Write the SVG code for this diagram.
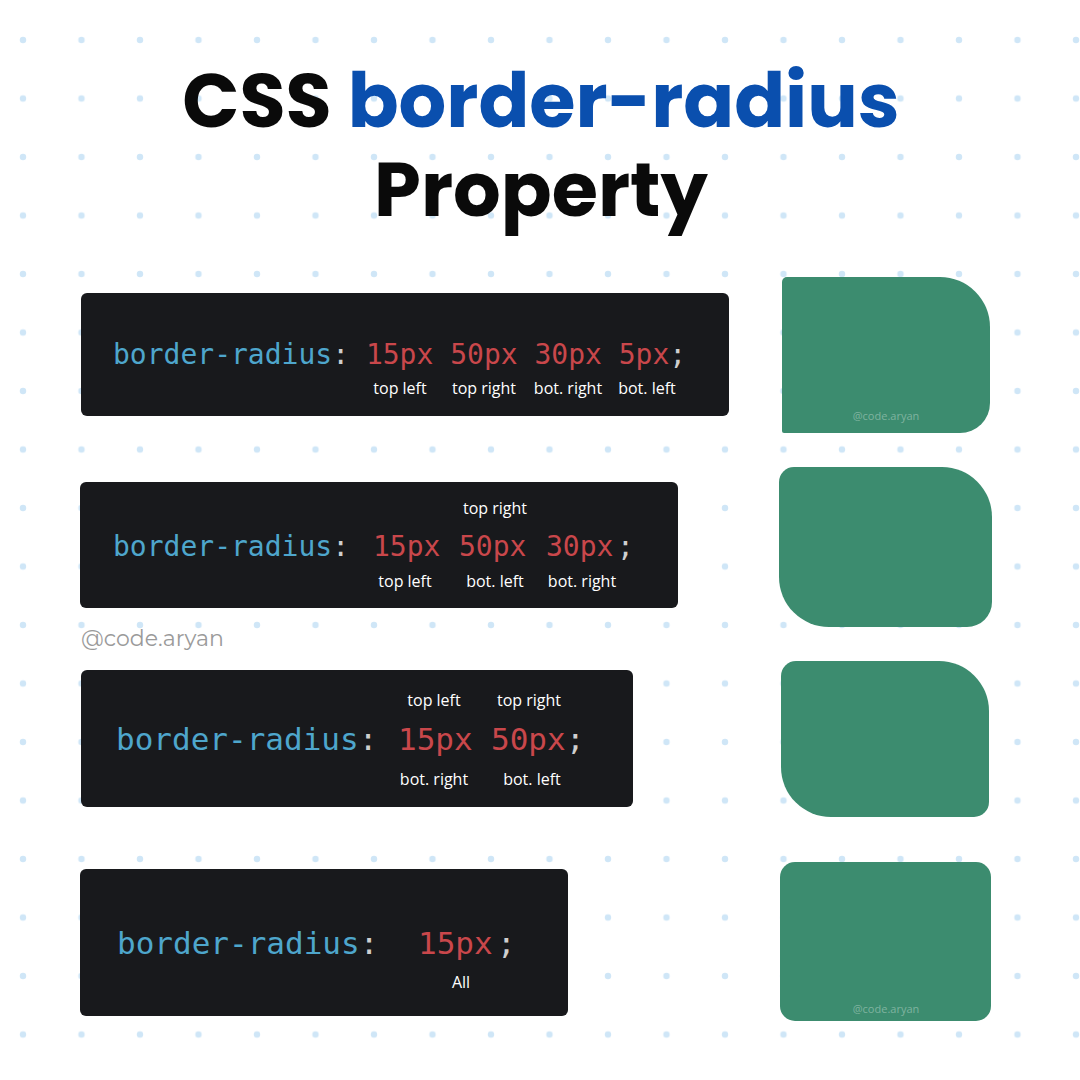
<svg xmlns="http://www.w3.org/2000/svg" width="1080" height="1080" viewBox="0 0 1080 1080">
<defs>
<pattern id="dots" x="-35.5" y="-18.5" width="58.5" height="58.5" patternUnits="userSpaceOnUse"><circle cx="58.5" cy="58.5" r="3.2" fill="#cfe6f7"/><circle cx="0" cy="0" r="3.2" fill="#cfe6f7"/><circle cx="58.5" cy="0" r="3.2" fill="#cfe6f7"/><circle cx="0" cy="58.5" r="3.2" fill="#cfe6f7"/></pattern>
</defs>
<style>
.box{fill:#18191c}
.code{font-family:"DejaVu Sans Mono",monospace;font-size:28px}
.c31{font-size:31px}
.k{fill:#4ea6cc}.v{fill:#c9474b}.p{fill:#cfcfcf}
.lab{font-family:"Open Sans","DejaVu Sans",sans-serif;font-size:16px;fill:#ffffff;text-anchor:middle}
.g{fill:#3c8c6f}
.wm{font-family:"Open Sans",sans-serif;font-size:11px;fill:#7fb39f;text-anchor:middle}
.t{font-family:"Poppins","Open Sans","Liberation Sans",sans-serif;font-weight:700;font-size:75px;text-anchor:middle}
</style>
<rect width="1080" height="1080" fill="#ffffff"/>
<rect width="1080" height="1080" fill="url(#dots)"/>
<g id="title">
<text class="t" x="541" y="127"><tspan fill="#0a0a0a">CSS </tspan><tspan fill="#0a4fae">border-radius</tspan></text>
<text class="t" x="541" y="216" fill="#0a0a0a">Property</text>
</g>
<g id="code1">
<rect class="box" x="81" y="293" width="648" height="123" rx="6"/>
<text class="code" x="113" y="364"><tspan class="k">border-radius</tspan><tspan class="p">: </tspan><tspan class="v">15px 50px 30px 5px</tspan><tspan class="p">;</tspan></text>
<text class="lab" x="400" y="394">top left</text>
<text class="lab" x="484" y="394">top right</text>
<text class="lab" x="568" y="394">bot. right</text>
<text class="lab" x="647" y="394">bot. left</text>
</g>
<g id="code2">
<rect class="box" x="80" y="482" width="598" height="126" rx="6"/>
<g class="code"><text x="113" y="556"><tspan class="k">border-radius</tspan><tspan class="p">:</tspan></text>
<text class="v" x="373" y="556">15px</text><text class="v" x="459" y="556">50px</text><text class="v" x="546" y="556">30px</text><text class="p" x="617" y="556">;</text></g>
<text class="lab" x="495" y="514">top right</text>
<text class="lab" x="405" y="587">top left</text>
<text class="lab" x="495" y="587">bot. left</text>
<text class="lab" x="582" y="587">bot. right</text>
</g>
<text x="81" y="646" font-family="Montserrat,'Open Sans',sans-serif" font-size="22" fill="#9a9a9a">@code.aryan</text>
<g id="code3">
<rect class="box" x="81" y="670" width="552" height="137" rx="6"/>
<g class="code c31"><text x="116" y="750"><tspan class="k">border-radius</tspan><tspan class="p">:</tspan></text>
<text class="v" x="398" y="750">15px</text><text class="v" x="491" y="750">50px</text><text class="p" x="566" y="750">;</text></g>
<text class="lab" x="434" y="706">top left</text>
<text class="lab" x="529" y="706">top right</text>
<text class="lab" x="434" y="785">bot. right</text>
<text class="lab" x="532" y="785">bot. left</text>
</g>
<g id="code4">
<rect class="box" x="80" y="869" width="488" height="147" rx="6"/>
<g class="code c31"><text x="117" y="954"><tspan class="k">border-radius</tspan><tspan class="p">:</tspan></text>
<text class="v" x="418" y="954">15px</text><text class="p" x="497" y="954">;</text></g>
<text class="lab" x="461" y="988">All</text>
</g>
<g id="shape1">
<path class="g" d="M787 277 H940 A50 50 0 0 1 990 327 V403 A30 30 0 0 1 960 433 H784 A2 2 0 0 1 782 431 V282 A5 5 0 0 1 787 277 Z"/>
<text class="wm" x="886" y="420">@code.aryan</text>
</g>
<g id="shape2">
<path class="g" d="M794 467 H942 A50 50 0 0 1 992 517 V602 A25 25 0 0 1 967 627 H829 A50 50 0 0 1 779 577 V482 A15 15 0 0 1 794 467 Z"/>
</g>
<g id="shape3">
<path class="g" d="M796 661 H939 A50 50 0 0 1 989 711 V802 A15 15 0 0 1 974 817 H831 A50 50 0 0 1 781 767 V676 A15 15 0 0 1 796 661 Z"/>
</g>
<g id="shape4">
<rect class="g" x="780" y="862" width="211" height="159" rx="15"/>
<text class="wm" x="886" y="1013">@code.aryan</text>
</g>
</svg>
